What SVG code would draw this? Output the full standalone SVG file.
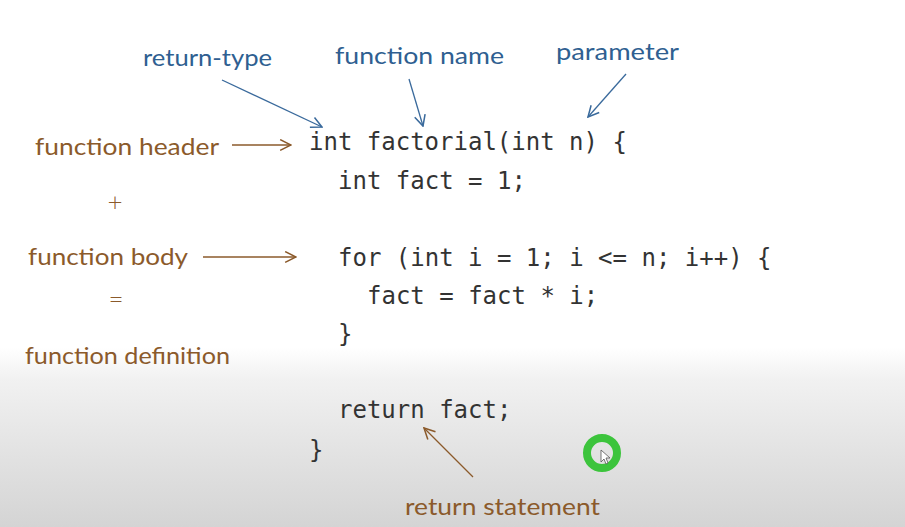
<svg xmlns="http://www.w3.org/2000/svg" width="905" height="527" viewBox="0 0 905 527">
  <defs>
    <linearGradient id="bg" x1="0" y1="0" x2="0" y2="1">
      <stop offset="0" stop-color="#ffffff"/>
      <stop offset="0.66" stop-color="#ffffff"/>
      <stop offset="0.72" stop-color="#f1f1f1"/>
      <stop offset="1" stop-color="#d4d4d4"/>
    </linearGradient>
    <marker id="ah-blue" viewBox="0 0 12 12" refX="11" refY="6" markerWidth="13" markerHeight="13" markerUnits="userSpaceOnUse" orient="auto">
      <path d="M1,1 L11,6 L1,11" fill="none" stroke="#3a6a9c" stroke-width="1.4"/>
    </marker>
    <marker id="ah-brown" viewBox="0 0 12 12" refX="11" refY="6" markerWidth="13" markerHeight="13" markerUnits="userSpaceOnUse" orient="auto">
      <path d="M1,1 L11,6 L1,11" fill="none" stroke="#8b5a2b" stroke-width="1.4"/>
    </marker>
  </defs>
  <style>
    .code { font-family: "DejaVu Sans Mono", "Liberation Mono", monospace; font-size: 24px; fill: #333333; }
    .blue { font-family: Lato, "Noto Sans", sans-serif; font-size: 23px; fill: #2f5f91; }
    .brown { font-family: Lato, "Noto Sans", sans-serif; font-size: 23px; fill: #8b5a2b; }
    .sym { font-family: Lato, "Noto Sans", sans-serif; font-size: 26px; font-weight: 300; fill: #8b5a2b; }
    .cb { fill: none; stroke: #3a6a9c; stroke-width: 1.3; marker-end: url(#ah-blue); }
    .cr { fill: none; stroke: #8b5a2b; stroke-width: 1.3; marker-end: url(#ah-brown); }
  </style>

  <rect width="905" height="527" fill="url(#bg)"/>

  <!-- source code -->
  <g id="code">
    <text class="code" x="309" y="150">int factorial(int n) {</text>
    <text class="code" x="338" y="189">int fact = 1;</text>
    <text class="code" x="338" y="266">for (int i = 1; i &lt;= n; i++) {</text>
    <text class="code" x="367" y="304">fact = fact * i;</text>
    <text class="code" x="338" y="342">}</text>
    <text class="code" x="338" y="418">return fact;</text>
    <text class="code" x="309" y="458">}</text>
  </g>

  <!-- annotation labels -->
  <g id="return-type"><text class="blue" x="143" y="66" textLength="129" lengthAdjust="spacingAndGlyphs">return-type</text></g>
  <g id="function-name"><text class="blue" x="335" y="64" textLength="169" lengthAdjust="spacingAndGlyphs">function name</text></g>
  <g id="parameter"><text class="blue" x="556" y="60" textLength="123" lengthAdjust="spacingAndGlyphs">parameter</text></g>
  <g id="function-header"><text class="brown" x="35" y="155" textLength="184" lengthAdjust="spacingAndGlyphs">function header</text></g>
  <g id="plus"><text class="sym" x="115" y="211" text-anchor="middle">+</text></g>
  <g id="function-body"><text class="brown" x="28" y="265" textLength="160" lengthAdjust="spacingAndGlyphs">function body</text></g>
  <g id="equals"><text class="sym" x="116" y="308" text-anchor="middle">=</text></g>
  <g id="function-definition"><text class="brown" x="25" y="364" textLength="205" lengthAdjust="spacingAndGlyphs">function definition</text></g>
  <g id="return-statement"><text class="brown" x="405" y="515" textLength="195" lengthAdjust="spacingAndGlyphs">return statement</text></g>

  <!-- connectors -->
  <g id="connectors">
    <line class="cb" x1="222" y1="80" x2="322" y2="127"/>
    <line class="cb" x1="409" y1="79" x2="423" y2="126"/>
    <line class="cb" x1="626" y1="74" x2="588" y2="117"/>
    <line class="cr" x1="232" y1="145" x2="291" y2="145"/>
    <line class="cr" x1="203" y1="257" x2="296" y2="257"/>
    <line class="cr" x1="473" y1="477" x2="424" y2="428"/>
  </g>

  <!-- pointer highlight -->
  <g id="pointer">
    <circle cx="602" cy="453" r="15" fill="none" stroke="#3cc43c" stroke-width="8"/>
    <path d="M601,450 L601,462 L604,459 L606,464 L608,463 L606,458 L610,458 Z" fill="#ffffff" stroke="#555555" stroke-width="0.8"/>
  </g>
</svg>
